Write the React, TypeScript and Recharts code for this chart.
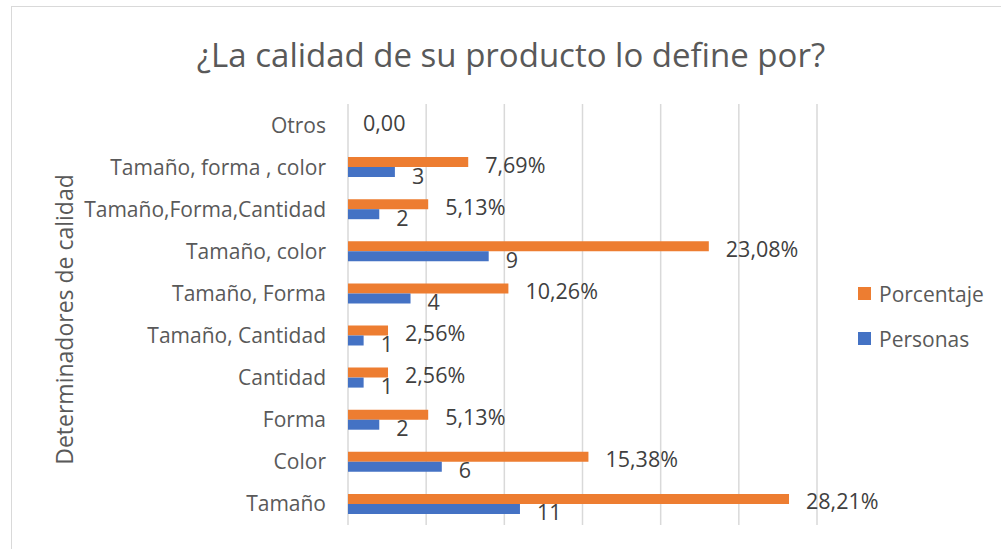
import React from "react";
import {
  Bar,
  BarChart,
  CartesianGrid,
  LabelList,
  ReferenceDot,
  XAxis,
  YAxis,
} from "recharts";

// categories listed top to bottom, as in the chart
const categories = [
  "Otros",
  "Tamaño, forma , color",
  "Tamaño,Forma,Cantidad",
  "Tamaño, color",
  "Tamaño, Forma",
  "Tamaño, Cantidad",
  "Cantidad",
  "Forma",
  "Color",
  "Tamaño",
];
const porcentaje = [0, 7.69, 5.13, 23.08, 10.26, 2.56, 2.56, 5.13, 15.38, 28.21];
const personas = [0, 3, 2, 9, 4, 1, 1, 2, 6, 11];
const xTicks = [0, 5, 10, 15, 20, 25, 30];

const ORANGE = "#ED7D31";
const BLUE = "#4472C4";
const FONT = "'Open Sans', sans-serif";
const AXIS_TEXT = "#595959";
const LABEL_TEXT = "#404040";

const data = categories.map((name, i) => ({
  name,
  porcentaje: porcentaje[i],
  personas: personas[i],
}));

const legendItems = [
  { name: "Porcentaje", color: ORANGE },
  { name: "Personas", color: BLUE },
];

const fmtPct = (v: number) =>
  v === 0 ? "0,00" : v.toFixed(2).replace(".", ",") + "%";
const fmtCount = (v: number) => (v === 0 ? "" : String(v));

// recharts drops zero-length bars, so their labels get drawn on a reference dot
const zeroRows = categories.filter((_, i) => porcentaje[i] === 0);

function makeLabel(fmt: (v: number) => string, dy: number) {
  return (props: any) => {
    const { x, y, width, height, value } = props;
    const t = fmt(Number(value));
    if (!t) return null;
    return (
      <text
        x={Number(x) + Number(width) + 17}
        y={Number(y) + Number(height) / 2 + dy}
        dominantBaseline="central"
        fontFamily={FONT}
        fontSize={21.5}
        fill={LABEL_TEXT}
      >
        {t}
      </text>
    );
  };
}

function ZeroLabel(props: any) {
  const vb = props.viewBox;
  const cx = vb.x + (vb.width || 0) / 2;
  const cy = vb.y + (vb.height || 0) / 2;
  return (
    <text
      x={cx + 15}
      y={cy - 3}
      dominantBaseline="central"
      fontFamily={FONT}
      fontSize={21.5}
      fill={LABEL_TEXT}
    >
      {fmtPct(0)}
    </text>
  );
}

function YTitle(props: any) {
  const vb = props.viewBox;
  const cx = 64;
  const cy = vb.y + vb.height / 2 + 5;
  return (
    <text
      x={cx}
      y={cy}
      transform={`rotate(-90 ${cx} ${cy})`}
      textAnchor="middle"
      dominantBaseline="central"
      fontFamily={FONT}
      fontSize={23}
      fill={AXIS_TEXT}
    >
      Determinadores de calidad
    </text>
  );
}

const emptyTick = () => <g />;

export default function App() {
  return (
    <div
      style={{
        position: "absolute",
        left: 0,
        top: 0,
        width: 1001,
        height: 549,
        overflow: "hidden",
        background: "#fff",
      }}
    >
      <div
        style={{
          position: "absolute",
          left: 11,
          top: 6,
          width: 1100,
          height: 600,
          border: "1px solid #d9d9d9",
        }}
      />
      <div
        style={{
          position: "absolute",
          left: 0,
          top: 38,
          width: 1022,
          textAlign: "center",
          fontFamily: FONT,
          fontSize: 33,
          lineHeight: "33px",
          color: AXIS_TEXT,
        }}
      >
        ¿La calidad de su producto lo define por?
      </div>
      <div style={{ position: "absolute", left: 0, top: 0 }}>
        <BarChart
          width={1001}
          height={549}
          data={data}
          layout="vertical"
          margin={{ top: 104, right: 184, bottom: 24, left: 0 }}
          barSize={10}
          barGap={0}
        >
          <CartesianGrid horizontal={false} stroke="#d9d9d9" strokeWidth={1.5} />
          <XAxis
            type="number"
            domain={[0, 30]}
            ticks={xTicks}
            tick={emptyTick}
            axisLine={false}
            tickLine={false}
            height={0}
          />
          <YAxis
            type="category"
            dataKey="name"
            width={348}
            axisLine={false}
            tickLine={false}
            tickSize={0}
            tickMargin={22}
            interval={0}
            tick={{ fontFamily: FONT, fontSize: 21, fill: AXIS_TEXT }}
            label={{ content: YTitle }}
          />
          <Bar dataKey="porcentaje" name="Porcentaje" fill={ORANGE} isAnimationActive={false}>
            <LabelList dataKey="porcentaje" content={makeLabel(fmtPct, 2)} />
          </Bar>
          <Bar dataKey="personas" name="Personas" fill={BLUE} isAnimationActive={false}>
            <LabelList dataKey="personas" content={makeLabel(fmtCount, 3)} />
          </Bar>
          {zeroRows.map((name) => (
            <ReferenceDot
              key={name}
              x={0}
              y={name}
              r={0}
              fill="none"
              stroke="none"
              ifOverflow="visible"
              label={{ content: ZeroLabel }}
            />
          ))}
        </BarChart>
      </div>
      <div
        style={{
          position: "absolute",
          left: 858,
          top: 271,
          fontFamily: FONT,
          fontSize: 21,
          color: AXIS_TEXT,
        }}
      >
        {legendItems.map((it) => (
          <div key={it.name} style={{ display: "flex", alignItems: "center", height: 45 }}>
            <span
              style={{
                display: "inline-block",
                width: 13,
                height: 13,
                background: it.color,
                marginRight: 8,
              }}
            />
            {it.name}
          </div>
        ))}
      </div>
    </div>
  );
}
